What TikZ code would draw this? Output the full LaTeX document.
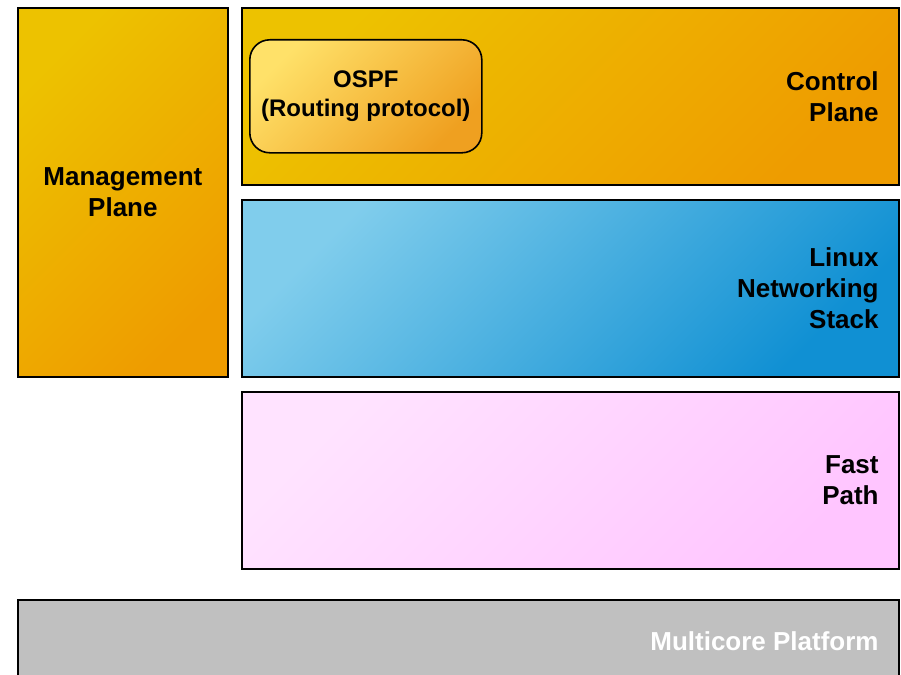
\documentclass[tikz,border=0pt]{standalone}
\usepackage{fontspec}
\setmainfont{Liberation Sans}
\usepackage{tikz}
\usetikzlibrary{positioning}

\definecolor{ctrlA}{HTML}{EDC200}
\definecolor{ctrlB}{HTML}{EE9C00}
\definecolor{linuxA}{HTML}{80CDEC}
\definecolor{linuxB}{HTML}{1090D3}
\definecolor{fastA}{HTML}{FFE3FF}
\definecolor{fastB}{HTML}{FFC5FF}
\definecolor{ospfA}{HTML}{FFE169}
\definecolor{ospfB}{HTML}{EFA020}
\definecolor{platgray}{HTML}{C0C0C0}

\begin{document}
\begin{tikzpicture}[x=1pt,y=-1pt,
  plane node/.style={rectangle,draw=black,line width=1.8pt,anchor=north west,inner sep=0pt},
  shaded node/.style 2 args={plane node,top color=#1,bottom color=#2,shading angle=45},
  orange node/.style={shaded node={ctrlA}{ctrlB}},
  proto node/.style={rectangle,rounded corners=20pt,draw=black,line width=1.6pt,anchor=north west,inner sep=0pt,
    top color=ospfA,bottom color=ospfB,shading angle=45,align=center,font=\fontsize{24}{29}\selectfont\bfseries},
  text node/.style={anchor=east,align=right,inner sep=0pt,font=\fontsize{26}{31}\selectfont\bfseries}]

  \useasboundingbox (0,0) rectangle (901,674);

  % planes
  \node[orange node,minimum width=210pt,minimum height=369pt,align=center,
    font=\fontsize{26}{31}\selectfont\bfseries] (mgmt) at (17,7) {Management\\Plane};
  \node[orange node,minimum width=657pt,minimum height=177pt] (ctrl) at (241,7) {};
  \node[shaded node={linuxA}{linuxB},minimum width=657pt,minimum height=177pt] (linux) at (241,199) {};
  \node[shaded node={fastA}{fastB},minimum width=657pt,minimum height=177pt] (fast) at (241,391) {};
  \node[plane node,fill=platgray,minimum width=881pt,minimum height=82pt] (plat) at (17,599) {};

  \node[proto node,minimum width=232pt,minimum height=113pt] (ospf) at (249,39) {OSPF\\(Routing protocol)};

  % labels
  \node[text node] (ctrl label) at ([xshift=-21pt]ctrl.east) {Control\\Plane};
  \node[text node] (linux label) at ([xshift=-21pt]linux.east) {Linux\\Networking\\Stack};
  \node[text node] (fast label) at ([xshift=-21pt]fast.east) {Fast\\Path};
  \node[text node,text=white] (plat label) at ([xshift=-21pt]plat.east) {Multicore Platform};

\end{tikzpicture}
\end{document}
